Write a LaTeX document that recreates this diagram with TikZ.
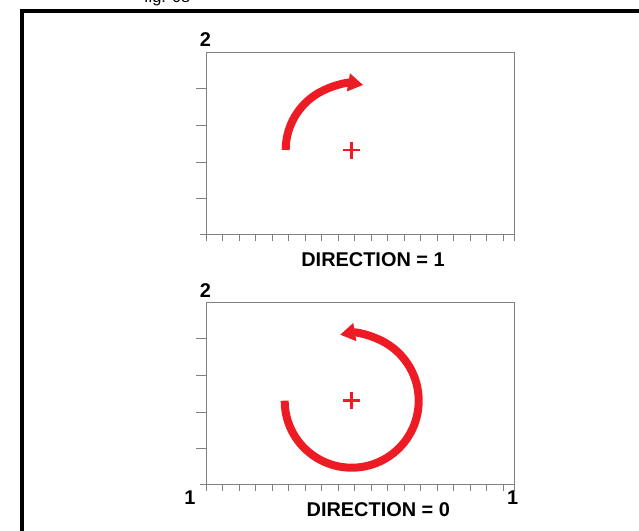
\documentclass[tikz,border=0pt]{standalone}
\usepackage{fontspec}
\setmainfont{Liberation Sans}
\usetikzlibrary{arrows.meta, positioning, calc}
\definecolor{arcred}{RGB}{237, 28, 36}
\definecolor{axisgray}{RGB}{128, 128, 128}

\begin{document}
\begin{tikzpicture}[
    x=0.03cm, y=-0.03cm,
    axis/.style={draw=axisgray, line width=0.8pt},
    arc/.style={draw=arcred, line width=2.4mm, -{Triangle[length=4.5mm, width=5.2mm]}},
    cross/.style={draw=arcred, line width=2.2pt},
    lbl/.style={font=\bfseries\fontsize{17}{20}\selectfont, inner sep=0pt, anchor=base}
]
\clip (0,0) rectangle (639,531);

% frame and cut-off caption
\draw[line width=2.6pt] (22,545) |- (650,11);
\node[anchor=base west, font=\fontsize{14}{16}\selectfont] (caption) at (140,3) {fig. 08};

% the two plot boxes with their ticks
\foreach \oy in {0,250} {
  \draw[axis] (206,52.7+\oy) rectangle (514.5,234+\oy);
  \foreach \ty in {88,125,162,198} \draw[axis] (196,\ty+\oy) -- (206,\ty+\oy);
  \draw[axis] (200,234+\oy) -- (206,234+\oy);
  \foreach \k in {0,...,18} \draw[axis] (206+16.5*\k,234+\oy) -- ++(0,7);
  \draw[axis] (514.5,234+\oy) -- ++(0,7);
}

% centres
\coordinate (c1) at (351.7,150);
\coordinate (c0) at (351.7,400.7);
\draw[cross] ($(c1)+(-8.5,0)$) -- ++(17,0) ($(c1)+(0,-8.5)$) -- ++(0,17);
\draw[cross] ($(c0)+(-8.5,0)$) -- ++(17,0) ($(c0)+(0,-8.5)$) -- ++(0,17);

% arcs
\coordinate (s1) at ($(c1)+(-66,0)$);
\coordinate (s0) at ($(c0)+(-67,0)$);
\draw[arc] (s1) arc[start angle=180, end angle=280, radius=66];
\draw[arc] (s0) arc[start angle=180, end angle=-100, radius=67];

% labels
\node[lbl] (ytop1) at (205.3,46.7) {2};
\node[lbl] (dir1) at (373,266.7) {DIRECTION = 1};
\node[lbl] (ytop0) at (205.3,297.3) {2};
\node[lbl] (xmin0) at (190,504) {1};
\node[lbl] (xmax0) at (512.7,504) {1};
\node[lbl] (dir0) at (378.3,516) {DIRECTION = 0};

\end{tikzpicture}
\end{document}
